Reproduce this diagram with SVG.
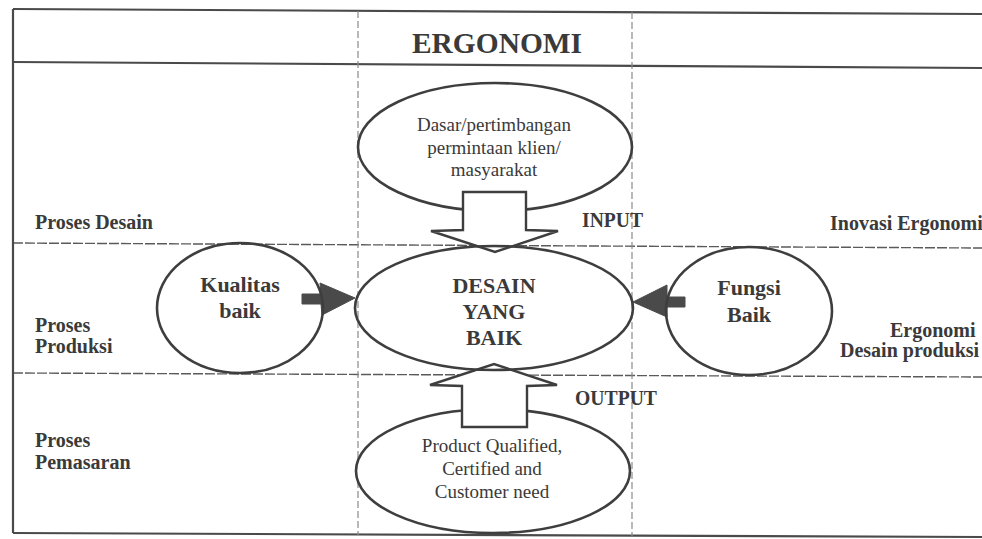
<svg xmlns="http://www.w3.org/2000/svg" width="982" height="539" viewBox="0 0 982 539">
<style>
.frame{stroke:#4a4a4a;stroke-width:2.2;fill:none}
.row{stroke:#5a5a5a;stroke-width:1.4;fill:none;stroke-dasharray:10 2}
.col{stroke:#8a8a8a;stroke-width:1.2;fill:none;stroke-dasharray:7 3}
.node{stroke:#3e3e3e;stroke-width:2.6;fill:#fff}
.nodeo{stroke:#3e3e3e;stroke-width:2.6;fill:none}
.blk{stroke:#3e3e3e;stroke-width:2.4;fill:#fff;stroke-linejoin:miter}
.dark{fill:#4a4a4a;stroke:#4a4a4a;stroke-width:1}
text{font-family:"Liberation Serif","Times New Roman",serif;fill:#3a3a3a}
.b{font-weight:bold}
.lbl{font-weight:bold;font-size:20px}
.reg{font-size:19px}
.mid{text-anchor:middle}
</style>
<rect width="982" height="539" fill="#fff"/>
<g id="grid">
<line class="frame" x1="13" y1="9" x2="982" y2="14"/>
<line class="frame" x1="13" y1="62" x2="982" y2="68"/>
<line class="row" x1="13" y1="243" x2="982" y2="248"/>
<line class="row" x1="13" y1="373" x2="982" y2="377"/>
<line class="frame" x1="13" y1="533" x2="982" y2="537"/>
<line class="frame" x1="13" y1="9" x2="13" y2="533"/>
<line class="col" x1="358" y1="11" x2="358" y2="535"/>
<line class="col" x1="632" y1="12" x2="632" y2="536"/>
</g>
<g id="header">
<text class="b mid" x="497" y="53" font-size="30" textLength="170" lengthAdjust="spacingAndGlyphs">ERGONOMI</text>
</g>
<g id="row-labels">
<text class="lbl" x="35" y="229">Proses Desain</text>
<text class="lbl" x="35" y="332">Proses</text>
<text class="lbl" x="35" y="353">Produksi</text>
<text class="lbl" x="35" y="447">Proses</text>
<text class="lbl" x="35" y="469">Pemasaran</text>
<text class="lbl" x="830" y="230">Inovasi Ergonomi</text>
<text class="lbl" x="890" y="337">Ergonomi</text>
<text class="lbl" x="840" y="357">Desain produksi</text>
</g>
<g id="node-input">
<ellipse class="node" cx="495" cy="147" rx="137" ry="64"/>
<text class="reg mid" x="494" y="131">Dasar/pertimbangan</text>
<text class="reg mid" x="494" y="154">permintaan klien/</text>
<text class="reg mid" x="494" y="176">masyarakat</text>
</g>
<g id="node-output">
<ellipse class="node" cx="493" cy="471" rx="137" ry="62"/>
<text class="reg mid" x="492" y="452">Product Qualified,</text>
<text class="reg mid" x="492" y="475">Certified and</text>
<text class="reg mid" x="492" y="498">Customer need</text>
</g>
<g id="connectors">
<polygon class="blk" points="463,192 526,192 526,230 558,231 495,252 431,231 463,230"/>
<polygon class="blk" points="462,427 527,427 527,386 557,385 494,364 430,385 462,386"/>
<polygon class="dark" points="302,294 321,294 320,283 355,298 322,315 321,304 302,304"/>
<polygon class="dark" points="685,297 667,297 667,285 633,302 667,317 667,307 685,307"/>
<text class="b" x="582" y="227" font-size="20" textLength="61" lengthAdjust="spacingAndGlyphs">INPUT</text>
<text class="b" x="575" y="405" font-size="20" textLength="82" lengthAdjust="spacingAndGlyphs">OUTPUT</text>
</g>
<g id="node-desain">
<ellipse class="nodeo" cx="494" cy="308" rx="139" ry="62"/>
<text class="b mid" x="494" y="293" font-size="22">DESAIN</text>
<text class="b mid" x="494" y="319" font-size="22">YANG</text>
<text class="b mid" x="494" y="345" font-size="22">BAIK</text>
</g>
<g id="node-kualitas">
<ellipse class="nodeo" cx="240" cy="308" rx="83" ry="65"/>
<text class="b mid" x="240" y="292" font-size="22">Kualitas</text>
<text class="b mid" x="240" y="318" font-size="22">baik</text>
</g>
<g id="node-fungsi">
<ellipse class="nodeo" cx="749" cy="311" rx="83" ry="64"/>
<text class="b mid" x="749" y="295" font-size="22">Fungsi</text>
<text class="b mid" x="749" y="322" font-size="22">Baik</text>
</g>
</svg>
